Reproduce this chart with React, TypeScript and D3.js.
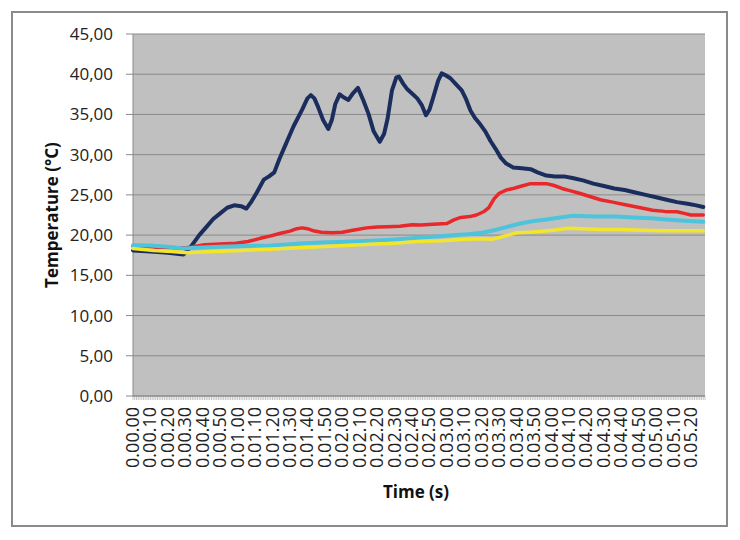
import * as d3 from "d3";
import { useEffect, useRef } from "react";

// time labels, one every 10 s (hh.mm.ss style as in the sheet)
const timeLabels = [
  "0.00.00", "0.00.10", "0.00.20", "0.00.30", "0.00.40", "0.00.50",
  "0.01.00", "0.01.10", "0.01.20", "0.01.30", "0.01.40", "0.01.50",
  "0.02.00", "0.02.10", "0.02.20", "0.02.30", "0.02.40", "0.02.50",
  "0.03.00", "0.03.10", "0.03.20", "0.03.30", "0.03.40", "0.03.50",
  "0.04.00", "0.04.10", "0.04.20", "0.04.30", "0.04.40", "0.04.50",
  "0.05.00", "0.05.10", "0.05.20",
];

const yTicks = [0, 5, 10, 15, 20, 25, 30, 35, 40, 45];

// [second, °C]
const navySeries = [
  [0, 18.1], [10, 17.95], [20, 17.8], [29, 17.6], [33, 18.5], [38, 20.0], [42, 21.0],
  [46, 22.0], [50, 22.7], [54, 23.4], [58, 23.7], [62, 23.6], [65, 23.3], [68, 24.2],
  [71, 25.3], [75, 26.9], [78, 27.3], [81, 27.8], [84, 29.5], [87, 31.0], [92, 33.5],
  [97, 35.6], [100, 37.0], [102, 37.4], [104, 37.0], [106, 36.0], [109, 34.3], [112, 33.2],
  [114, 34.3], [116, 36.3], [118.5, 37.5], [121, 37.1], [123.5, 36.8], [126, 37.6],
  [129, 38.3], [132, 36.8], [135, 35.1], [138, 32.9], [141.5, 31.6], [144, 32.6],
  [146, 34.5], [148.5, 38.0], [151, 39.6], [152.5, 39.7], [155, 38.8], [157, 38.2],
  [160, 37.6], [163, 37.0], [165.5, 36.2], [168, 34.9], [170, 35.6], [172, 37.0],
  [175, 39.2], [177, 40.1], [179, 39.9], [182, 39.5], [185, 38.8], [188.5, 38.0],
  [191, 36.9], [193.5, 35.5], [196, 34.6], [199, 33.8], [202, 32.9], [205, 31.7],
  [208, 30.7], [211, 29.6], [214, 28.9], [218, 28.4], [223, 28.3], [228, 28.2],
  [232, 27.8], [237, 27.4], [242, 27.3], [247, 27.3], [252, 27.1], [258, 26.8],
  [264, 26.4], [270, 26.1], [276, 25.8], [282, 25.6], [288, 25.3], [294, 25.0],
  [300, 24.7], [306, 24.4], [312, 24.1], [318, 23.9], [323, 23.7], [327, 23.5],
];

const redSeries = [
  [0, 18.6], [15, 18.5], [30, 18.4], [41, 18.8], [50, 18.9], [59, 19.0], [66, 19.2],
  [73, 19.6], [79, 19.9], [84, 20.2], [90, 20.5], [94, 20.8], [97, 20.9], [100, 20.8],
  [104, 20.5], [108, 20.35], [114, 20.3], [120, 20.35], [126, 20.6], [134, 20.9],
  [140, 21.0], [146, 21.05], [153, 21.1], [160, 21.3], [165, 21.25], [172, 21.35],
  [180, 21.45], [184, 21.9], [188, 22.2], [193, 22.3], [197, 22.5], [201, 22.9],
  [204, 23.4], [207, 24.5], [210, 25.2], [214, 25.6], [218, 25.8], [223, 26.1],
  [228, 26.4], [233, 26.4], [237, 26.4], [241, 26.2], [246, 25.8], [251, 25.5],
  [256, 25.2], [262, 24.8], [268, 24.4], [275, 24.1], [283, 23.75], [291, 23.4],
  [298, 23.1], [305, 22.95], [312, 22.9], [316, 22.7], [320, 22.5], [327, 22.5],
];

const cyanSeries = [
  [0, 18.75], [10, 18.7], [20, 18.55], [29, 18.35], [40, 18.45], [50, 18.55], [65, 18.65],
  [79, 18.7], [90, 18.85], [98, 19.0], [112, 19.1], [126, 19.2], [146, 19.4], [160, 19.6],
  [172, 19.8], [185, 20.0], [192, 20.1], [200, 20.3], [207, 20.6], [214, 21.0],
  [222, 21.45], [230, 21.75], [237, 21.95], [245, 22.2], [252, 22.4], [260, 22.35],
  [268, 22.3], [277, 22.3], [287, 22.2], [297, 22.1], [306, 21.95], [316, 21.8], [327, 21.65],
];

const yellowSeries = [
  [0, 18.35], [12, 18.1], [22, 17.95], [31, 17.8], [40, 17.9], [50, 18.0], [62, 18.1],
  [78, 18.25], [92, 18.4], [107, 18.55], [122, 18.7], [136, 18.85], [150, 19.0],
  [163, 19.2], [177, 19.3], [191, 19.5], [200, 19.55], [206, 19.5], [210, 19.7],
  [215, 20.0], [220, 20.3], [227, 20.35], [233, 20.45], [241, 20.6], [249, 20.85],
  [258, 20.8], [268, 20.7], [280, 20.7], [292, 20.6], [305, 20.55], [316, 20.55], [327, 20.55],
];

export default function App() {
  const ref = useRef<SVGSVGElement>(null);

  useEffect(() => {
    const svg = d3.select(ref.current);
    svg.selectAll("*").remove();

    const left = 133, right = 705, top = 34, bottom = 396;
    const font = "'Open Sans', 'DejaVu Sans', sans-serif";

    const x = d3.scaleLinear().domain([0, 328]).range([left, right]);
    const y = d3.scaleLinear().domain([0, 45]).range([bottom, top]);

    // outer frame
    svg
      .append("rect")
      .attr("x", 12)
      .attr("y", 12)
      .attr("width", 715)
      .attr("height", 514)
      .attr("fill", "#fff")
      .attr("stroke", "#8a8a8a")
      .attr("stroke-width", 2);

    // plot area
    svg
      .append("rect")
      .attr("x", left)
      .attr("y", top)
      .attr("width", right - left)
      .attr("height", bottom - top)
      .attr("fill", "#c0c0c0");

    // gridlines + y ticks
    svg
      .selectAll("line.grid")
      .data(yTicks)
      .enter()
      .append("line")
      .attr("class", "grid")
      .attr("x1", left - 7)
      .attr("x2", right)
      .attr("y1", (d) => y(d))
      .attr("y2", (d) => y(d))
      .attr("stroke", "#8a8a8a")
      .attr("stroke-width", 1);

    svg
      .selectAll("text.ylab")
      .data(yTicks)
      .enter()
      .append("text")
      .attr("class", "ylab")
      .attr("x", 113)
      .attr("y", (d) => y(d) + 6)
      .attr("text-anchor", "end")
      .attr("font-family", font)
      .attr("font-size", 17)
      .attr("fill", "#222")
      .text((d) => d.toFixed(2).replace(".", ","));

    // y axis line
    svg
      .append("line")
      .attr("x1", left)
      .attr("x2", left)
      .attr("y1", top)
      .attr("y2", bottom)
      .attr("stroke", "#8a8a8a");

    // x axis minor ticks, one per second
    svg
      .selectAll("line.xt")
      .data(d3.range(0, 329))
      .enter()
      .append("line")
      .attr("class", "xt")
      .attr("x1", (d) => x(d))
      .attr("x2", (d) => x(d))
      .attr("y1", bottom)
      .attr("y2", bottom + 4)
      .attr("stroke", "#999")
      .attr("stroke-width", 0.6);

    svg
      .append("line")
      .attr("x1", left)
      .attr("x2", right)
      .attr("y1", bottom)
      .attr("y2", bottom)
      .attr("stroke", "#8a8a8a");

    svg
      .selectAll("text.xlab")
      .data(timeLabels)
      .enter()
      .append("text")
      .attr("class", "xlab")
      .attr("transform", (d, i) => `translate(${x(i * 10) + 6},407)rotate(-90)`)
      .attr("text-anchor", "end")
      .attr("font-family", font)
      .attr("font-size", 18)
      .attr("fill", "#222")
      .text((d) => d);

    // axis titles
    svg
      .append("text")
      .attr("x", 416)
      .attr("y", 498)
      .attr("text-anchor", "middle")
      .attr("font-family", font)
      .attr("font-size", 17)
      .attr("font-weight", "bold")
      .attr("fill", "#111")
      .text("Time (s)");

    svg
      .append("text")
      .attr("transform", "translate(58,215)rotate(-90)")
      .attr("text-anchor", "middle")
      .attr("font-family", font)
      .attr("font-size", 17)
      .attr("font-weight", "bold")
      .attr("fill", "#111")
      .text("Temperature (°C)");

    const line = d3
      .line<number[]>()
      .x((d) => x(d[0]))
      .y((d) => y(d[1]));

    const series = [
      { data: navySeries, color: "#1a2d5c", w: 4 },
      { data: redSeries, color: "#e8282a", w: 3.5 },
      { data: cyanSeries, color: "#4dc4db", w: 4 },
      { data: yellowSeries, color: "#f2e52a", w: 3.5 },
    ];

    svg
      .selectAll("path.series")
      .data(series)
      .enter()
      .append("path")
      .attr("class", "series")
      .attr("d", (d) => line(d.data))
      .attr("fill", "none")
      .attr("stroke", (d) => d.color)
      .attr("stroke-width", (d) => d.w)
      .attr("stroke-linejoin", "round")
      .attr("stroke-linecap", "round");
  }, []);

  return (
    <svg
      ref={ref}
      width={740}
      height={540}
      style={{ position: "absolute", left: 0, top: 0, background: "#fff" }}
    />
  );
}
